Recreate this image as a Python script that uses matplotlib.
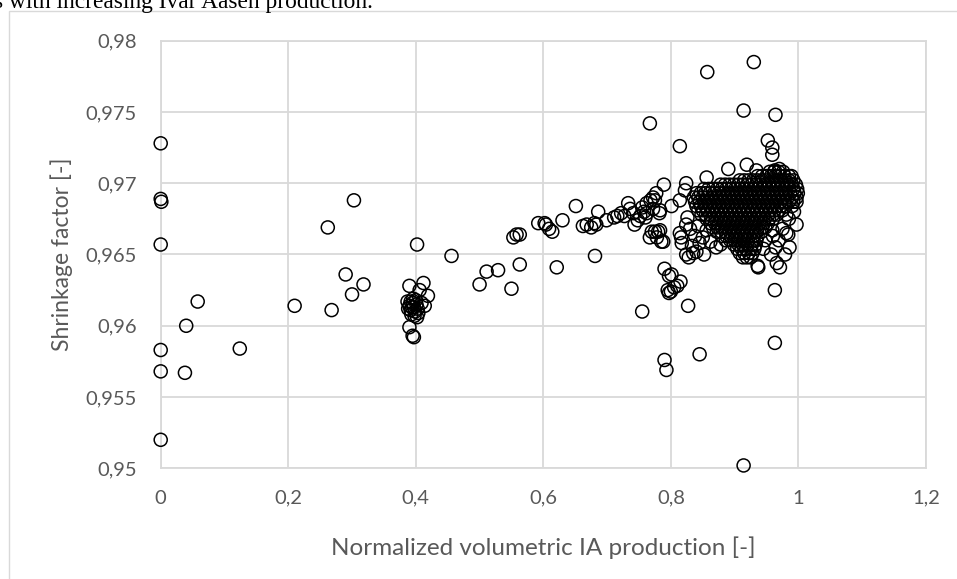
import matplotlib
matplotlib.use("Agg")
import matplotlib.pyplot as plt
from matplotlib.patches import Rectangle
from matplotlib.ticker import FuncFormatter
import numpy as np

# ---- data (x = normalized IA production, y = shrinkage factor)

# isolated points, left half of the chart
left_x = [0.000, 0.000, 0.001, 0.000, 0.000, 0.000, 0.000, 0.040, 0.038, 0.058,
          0.124, 0.210, 0.262, 0.268, 0.290, 0.300, 0.303, 0.318, 0.390, 0.402,
          0.412, 0.406, 0.419, 0.414, 0.390, 0.395, 0.397, 0.456]
left_y = [0.9728, 0.9689, 0.9687, 0.9657, 0.9583, 0.9568, 0.9520, 0.9600, 0.9567, 0.9617,
          0.9584, 0.9614, 0.9669, 0.9611, 0.9636, 0.9622, 0.9688, 0.9629, 0.9628, 0.9657,
          0.9630, 0.9625, 0.9621, 0.9614, 0.9599, 0.9593, 0.9592, 0.9649]

# the tight clump at x ~ 0.4
clump_x = [0.387, 0.390, 0.392, 0.395, 0.397, 0.399, 0.401, 0.403, 0.393, 0.398,
           0.396, 0.400, 0.404, 0.388, 0.394, 0.402, 0.409, 0.392]
clump_y = [0.9617, 0.9614, 0.9611, 0.9616, 0.9613, 0.9610, 0.9615, 0.9612, 0.9608, 0.9607,
           0.9619, 0.9618, 0.9609, 0.9612, 0.9613, 0.9606, 0.9616, 0.9617]

# the rising band 0.5 - 0.85 plus outliers around the main cluster
mid_x = [0.500, 0.511, 0.529, 0.550, 0.553, 0.563, 0.563, 0.592, 0.602, 0.604,
         0.614, 0.621, 0.630, 0.651, 0.662, 0.675, 0.680, 0.681, 0.686, 0.699,
         0.711, 0.727, 0.733, 0.736, 0.741, 0.743, 0.752, 0.755, 0.758, 0.760,
         0.767, 0.767, 0.772, 0.777, 0.780, 0.782, 0.785, 0.789, 0.790, 0.793,
         0.790, 0.797, 0.795, 0.797, 0.800, 0.805, 0.810, 0.815, 0.801, 0.814,
         0.816, 0.827, 0.845, 0.857, 0.914, 0.930, 0.964, 0.952, 0.959, 0.959,
         0.914, 0.963, 0.963, 0.936, 0.966, 0.971, 0.979, 0.986, 0.984, 0.997,
         0.981, 0.981, 0.959, 0.960, 0.986, 0.989, 0.890, 0.919, 0.856, 0.824,
         0.822, 0.814, 0.783, 0.762, 0.775, 0.783, 0.788, 0.801, 0.814, 0.824,
         0.817, 0.824, 0.835, 0.845, 0.871, 0.934, 0.963, 0.970, 0.937, 0.748,
         0.755, 0.762, 0.768, 0.772, 0.775, 0.770, 0.778, 0.716, 0.722, 0.558,
         0.609, 0.668, 0.683]
mid_y = [0.9629, 0.9638, 0.9639, 0.9626, 0.9662, 0.9664, 0.9643, 0.9672, 0.9672, 0.9671,
         0.9666, 0.9641, 0.9674, 0.9684, 0.9670, 0.9669, 0.9672, 0.9649, 0.9680, 0.9674,
         0.9676, 0.9677, 0.9686, 0.9682, 0.9679, 0.9671, 0.9677, 0.9610, 0.9680, 0.9676,
         0.9662, 0.9742, 0.9682, 0.9693, 0.9666, 0.9679, 0.9659, 0.9699, 0.9576, 0.9569,
         0.9640, 0.9635, 0.9625, 0.9623, 0.9624, 0.9627, 0.9628, 0.9631, 0.9684, 0.9726,
         0.9662, 0.9614, 0.9580, 0.9778, 0.9751, 0.9785, 0.9748, 0.9730, 0.9725, 0.9720,
         0.9502, 0.9588, 0.9625, 0.9642, 0.9644, 0.9641, 0.9650, 0.9655, 0.9664, 0.9671,
         0.9665, 0.9678, 0.9667, 0.9663, 0.9700, 0.9705, 0.9710, 0.9713, 0.9704, 0.9700,
         0.9695, 0.9688, 0.9681, 0.9679, 0.9666, 0.9667, 0.9659, 0.9636, 0.9665, 0.9671,
         0.9658, 0.9650, 0.9651, 0.9658, 0.9655, 0.9709, 0.9709, 0.9710, 0.9641, 0.9674,
         0.9683, 0.9686, 0.9688, 0.9690, 0.9688, 0.9666, 0.9662, 0.9677, 0.9679, 0.9664,
         0.9668, 0.9671, 0.9671]

# rings along the edge of the dense cluster
edge_x = [0.826, 0.830, 0.838, 0.843, 0.833, 0.828, 0.840, 0.850, 0.856, 0.862,
          0.878, 0.886, 0.852, 0.975, 0.969, 0.964, 0.957, 0.948, 0.945, 0.990,
          0.993, 0.985]
edge_y = [0.9676, 0.9668, 0.9663, 0.9670, 0.9656, 0.9648, 0.9652, 0.9662, 0.9667, 0.9659,
          0.9657, 0.9660, 0.9650, 0.9668, 0.9660, 0.9655, 0.9650, 0.9660, 0.9654, 0.9684,
          0.9680, 0.9675]

# dense cluster near x ~ 0.84 - 1.0, one list of x values per shrinkage level
core_y = [0.9708, 0.9705, 0.9702, 0.9699, 0.9696, 0.9693, 0.9690, 0.9687, 0.9684, 0.9681,
          0.9678, 0.9675, 0.9672, 0.9669, 0.9666, 0.9663, 0.9660, 0.9657, 0.9654, 0.9651,
          0.9648]
core_x = [
    [0.955, 0.962, 0.969, 0.976],
    [0.936, 0.943, 0.950, 0.957, 0.964, 0.971, 0.978, 0.985],
    [0.908, 0.915, 0.922, 0.929, 0.936, 0.943, 0.950, 0.957, 0.964, 0.971, 0.978, 0.985, 0.992],
    [0.878, 0.885, 0.892, 0.899, 0.906, 0.913, 0.920, 0.927, 0.934, 0.941, 0.948, 0.955,
     0.962, 0.969, 0.976, 0.983, 0.990, 0.996],
    [0.852, 0.859, 0.866, 0.873, 0.880, 0.887, 0.894, 0.901, 0.908, 0.915, 0.922, 0.929,
     0.936, 0.943, 0.950, 0.957, 0.964, 0.971, 0.978, 0.985, 0.992, 0.998],
    [0.840, 0.847, 0.854, 0.861, 0.868, 0.875, 0.882, 0.889, 0.896, 0.903, 0.910, 0.917,
     0.924, 0.931, 0.938, 0.945, 0.952, 0.959, 0.966, 0.973, 0.980, 0.987, 0.994, 0.999],
    [0.836, 0.843, 0.850, 0.857, 0.864, 0.871, 0.878, 0.885, 0.892, 0.899, 0.906, 0.913,
     0.920, 0.927, 0.934, 0.941, 0.948, 0.955, 0.962, 0.969, 0.976, 0.983, 0.990, 0.997],
    [0.838, 0.845, 0.852, 0.859, 0.866, 0.873, 0.880, 0.887, 0.894, 0.901, 0.908, 0.915,
     0.922, 0.929, 0.936, 0.943, 0.950, 0.957, 0.964, 0.971, 0.978, 0.985, 0.992, 0.997],
    [0.840, 0.847, 0.854, 0.861, 0.868, 0.875, 0.882, 0.889, 0.896, 0.903, 0.910, 0.917,
     0.924, 0.931, 0.938, 0.945, 0.952, 0.959, 0.966, 0.973, 0.980],
    [0.843, 0.850, 0.857, 0.864, 0.871, 0.878, 0.885, 0.892, 0.899, 0.906, 0.913, 0.920,
     0.927, 0.934, 0.941, 0.948, 0.955, 0.962, 0.969, 0.975],
    [0.848, 0.855, 0.862, 0.869, 0.876, 0.883, 0.890, 0.897, 0.904, 0.911, 0.918, 0.925,
     0.932, 0.939, 0.946, 0.953, 0.960, 0.966],
    [0.856, 0.863, 0.870, 0.877, 0.884, 0.891, 0.898, 0.905, 0.912, 0.919, 0.926, 0.933,
     0.940, 0.947, 0.954, 0.960],
    [0.862, 0.869, 0.876, 0.883, 0.890, 0.897, 0.904, 0.911, 0.918, 0.925, 0.932, 0.939,
     0.946, 0.952],
    [0.866, 0.873, 0.880, 0.887, 0.894, 0.901, 0.908, 0.915, 0.922, 0.929, 0.936, 0.943, 0.948],
    [0.872, 0.879, 0.886, 0.893, 0.900, 0.907, 0.914, 0.921, 0.928, 0.935, 0.942],
    [0.880, 0.887, 0.894, 0.901, 0.908, 0.915, 0.922, 0.929, 0.936],
    [0.893, 0.900, 0.907, 0.914, 0.921, 0.928, 0.934],
    [0.899, 0.906, 0.913, 0.920, 0.927, 0.933],
    [0.904, 0.911, 0.918, 0.925, 0.931],
    [0.908, 0.915, 0.922, 0.928],
    [0.913, 0.919, 0.925],
]

x_ticks = [0, 0.2, 0.4, 0.6, 0.8, 1.0, 1.2]
y_ticks = [0.95, 0.955, 0.96, 0.965, 0.97, 0.975, 0.98]

# ---- assemble all points
xs = left_x + clump_x + mid_x + edge_x
ys = left_y + clump_y + mid_y + edge_y
for yv, row in zip(core_y, core_x):
    xs += row
    ys += [yv] * len(row)
xs = np.array(xs)
ys = np.array(ys)

# ---- figure
W, H = 957, 579
fig = plt.figure(figsize=(W / 100, H / 100), dpi=100)
fig.patch.set_facecolor("white")

grid_c = "#d9d9d9"
text_c = "#595959"
font = ["Lato", "DejaVu Sans"]

# chart-area frame (runs off the right and bottom edge)
fig.patches.append(Rectangle((9 / W, -0.1), 1.2, 1 - 11 / H + 0.1, transform=fig.transFigure,
                             fill=False, edgecolor=grid_c, linewidth=1.0))

# caption fragment cut off at the top
fig.text(-6 / W, 1 - 8 / H, "s with increasing Ivar Aasen production.",
         family="Liberation Serif", fontsize=16.8, color="black", va="baseline", ha="left")

ax = fig.add_axes([160.7 / W, 1 - 468.3 / H, (926 - 160.7) / W, (468.3 - 40.7) / H])
ax.set_xlim(0, 1.2)
ax.set_ylim(0.95, 0.98)
ax.set_xticks(x_ticks)
ax.set_yticks(y_ticks)

fmt = FuncFormatter(lambda v, p: ("%g" % round(v, 4)).replace(".", ","))
ax.xaxis.set_major_formatter(fmt)
ax.yaxis.set_major_formatter(fmt)

ax.grid(True, color=grid_c, linewidth=1.3)
ax.set_axisbelow(True)
for s in ax.spines.values():
    s.set_color(grid_c)
    s.set_linewidth(1.3)
ax.tick_params(length=0, colors=text_c, labelsize=14.5)
ax.tick_params(axis="x", pad=15.5)
ax.tick_params(axis="y", pad=17)
for lab in ax.get_xticklabels() + ax.get_yticklabels():
    lab.set_family(font)

ax.scatter(xs, ys, s=88, facecolors="none", edgecolors="black", linewidths=1.1,
           clip_on=False, zorder=3)

ax.set_xlabel("Normalized volumetric IA production [-]", color=text_c, fontsize=17.5,
              family=font, labelpad=21)
ax.set_ylabel("Shrinkage factor [-]", color=text_c, fontsize=16.5, family=font, labelpad=9)

fig.savefig("out.png", dpi=100)
